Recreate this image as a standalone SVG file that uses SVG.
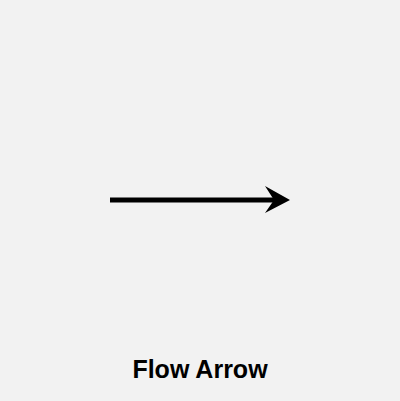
<svg xmlns="http://www.w3.org/2000/svg" width="400" height="401" viewBox="0 0 400 401">
<style>
.lbl{font-family:"Liberation Sans",Arial,sans-serif;font-weight:bold;font-size:25px;fill:#000;text-anchor:middle}
</style>
<rect x="0" y="0" width="400" height="401" fill="#f2f2f2"/>
<g id="connectors">
<line x1="110" y1="200" x2="276" y2="200" stroke="#000" stroke-width="5"/>
<path d="M290,200 L265,186 L274,200 L265,213 Z" fill="#000"/>
</g>
<g id="label">
<text class="lbl" x="200" y="378">Flow Arrow</text>
</g>
</svg>
